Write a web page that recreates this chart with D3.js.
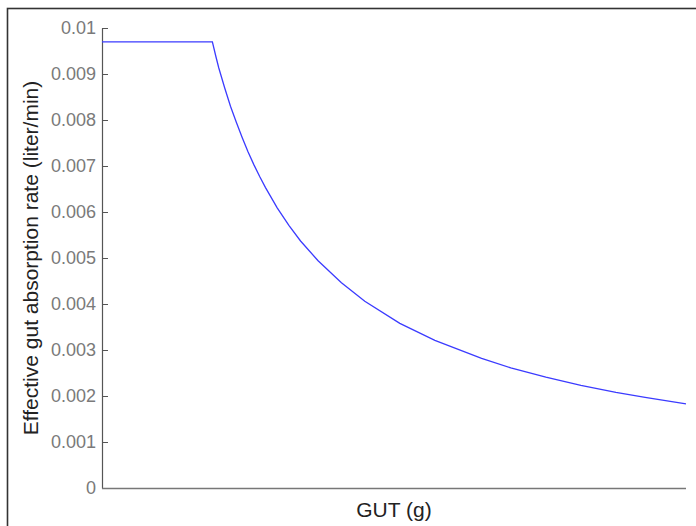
<!DOCTYPE html>
<html>
<head>
<meta charset="utf-8">
<script src="https://cdn.jsdelivr.net/npm/d3@7"></script>
<style>
  body { margin: 0; background: #fff; }
  svg { display: block; font-family: "Liberation Sans", Arial, sans-serif; }
  .yaxis line, .yaxis path { stroke: #555; }
</style>
</head>
<body>
<svg width="696" height="526"></svg>
<script>
// GUT (arbitrary units, no tick labels in the original) vs effective absorption rate
const gut  = [0, 18.9, 19.5, 20, 21, 22, 23, 24, 25, 26, 27, 28, 30, 32, 34, 37, 41, 45, 51, 57, 65, 70, 76, 82, 88, 93, 100];
const rate = [0.0097, 0.0097, 0.00938, 0.00913, 0.00870, 0.00830, 0.00795, 0.00762, 0.00731, 0.00703,
              0.00677, 0.00653, 0.00609, 0.00571, 0.00537, 0.00494, 0.00446, 0.00406, 0.00358,
              0.00321, 0.00282, 0.00261, 0.00241, 0.00223, 0.00208, 0.00197, 0.00183];
const yTicks = [0, 0.001, 0.002, 0.003, 0.004, 0.005, 0.006, 0.007, 0.008, 0.009, 0.01];
const xLabel = "GUT (g)";
const yLabel = "Effective gut absorption rate (liter/min)";

const svg = d3.select("svg");
const margin = {left: 102, top: 28, right: 10, bottom: 38};
const width = 686 - margin.left, height = 488 - margin.top;

// figure frame (cropped on the right and bottom)
svg.append("rect")
    .attr("x", 7.5).attr("y", 8.5)
    .attr("width", 720).attr("height", 540)
    .attr("fill", "none").attr("stroke", "#333").attr("stroke-width", 1.6);

const g = svg.append("g").attr("transform", `translate(${margin.left},${margin.top})`);

const x = d3.scaleLinear().domain([0, 100]).range([0, width]);
const y = d3.scaleLinear().domain([0, 0.01]).range([height, 0]);

g.append("g")
    .attr("class", "yaxis")
    .call(d3.axisLeft(y).tickValues(yTicks).tickSizeInner(-6).tickSizeOuter(0).tickPadding(6)
        .tickFormat(d => d === 0 ? "0" : String(+d.toFixed(3))))
    .attr("font-family", "Liberation Sans, Arial, sans-serif")
    .attr("font-size", 18)
    .call(a => a.selectAll("text").attr("fill", "#7a7a7a"))
    .call(a => a.select(".domain").attr("stroke-width", 1.2));

g.append("line")
    .attr("x1", 0).attr("x2", width)
    .attr("y1", height + 0.5).attr("y2", height + 0.5)
    .attr("stroke", "#777").attr("stroke-width", 1.4);

const pts = gut.map((v, i) => [v, rate[i]]);
g.append("path")
    .datum(pts)
    .attr("fill", "none")
    .attr("stroke", "#3b3bff")
    .attr("stroke-width", 1.3)
    .attr("d", d3.line().x(d => x(d[0])).y(d => y(d[1])));

svg.append("text")
    .attr("x", margin.left + width / 2).attr("y", 517)
    .attr("text-anchor", "middle")
    .attr("font-size", 21).attr("fill", "#222")
    .text(xLabel);

svg.append("text")
    .attr("transform", `translate(38,${margin.top + height / 2}) rotate(-90)`)
    .attr("text-anchor", "middle")
    .attr("font-size", 21).attr("fill", "#222")
    .text(yLabel);
</script>
</body>
</html>
